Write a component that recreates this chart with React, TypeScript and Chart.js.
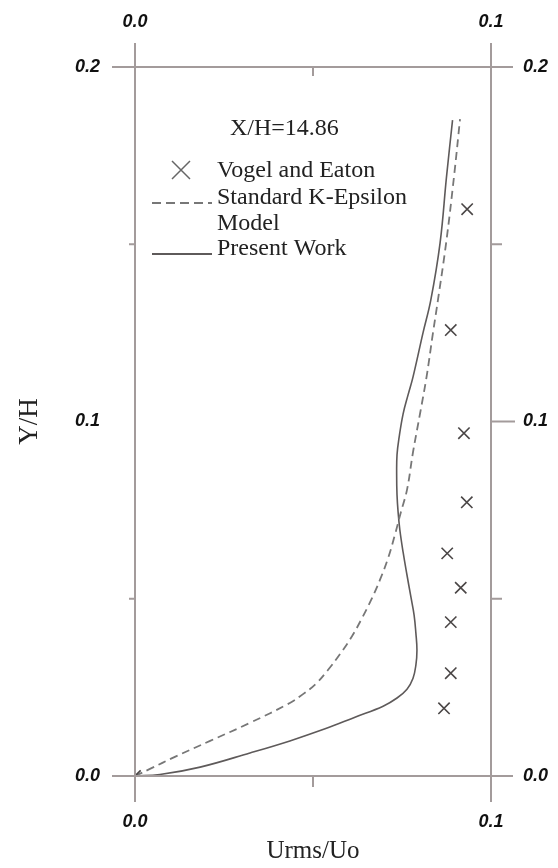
import React, { useEffect, useRef } from "react";
import { Chart, registerables } from "chart.js";

Chart.register(...registerables);

// Vogel and Eaton experimental data (Urms/Uo, Y/H)
const vogelX = [0.0, 0.0868, 0.0887, 0.0887, 0.0915, 0.0877, 0.0932, 0.0924, 0.0887, 0.0933];
const vogelY = [0.0, 0.0191, 0.029, 0.0434, 0.0531, 0.0628, 0.0772, 0.0967, 0.1258, 0.1599];

// Standard K-Epsilon model
const keX = [0.0, 0.0042, 0.0112, 0.0211, 0.0323, 0.0435, 0.0472, 0.0508, 0.0542, 0.0576, 0.061, 0.0638, 0.0663, 0.0688, 0.0711, 0.073, 0.0747, 0.0764, 0.0781, 0.0801, 0.0819, 0.0837, 0.0851, 0.0874, 0.0896, 0.0913];
const keY = [0.0, 0.002, 0.0054, 0.0099, 0.015, 0.0206, 0.0231, 0.026, 0.0299, 0.0344, 0.0395, 0.0446, 0.0496, 0.0553, 0.0615, 0.068, 0.0745, 0.0807, 0.0914, 0.1024, 0.1126, 0.125, 0.1343, 0.1504, 0.169, 0.1853];

// Present work
const pwX = [0.0, 0.007, 0.0183, 0.0323, 0.0435, 0.0534, 0.0618, 0.0697, 0.0736, 0.0764, 0.0781, 0.0789, 0.0792, 0.0789, 0.0784, 0.0775, 0.0764, 0.0753, 0.0744, 0.0739, 0.0736, 0.0735, 0.0736, 0.0742, 0.0753, 0.0767, 0.0781, 0.0809, 0.0831, 0.0857, 0.0875, 0.0892];
const pwY = [0.0, 0.0004, 0.0025, 0.0065, 0.0099, 0.0133, 0.0166, 0.0197, 0.022, 0.0245, 0.0276, 0.0313, 0.0355, 0.0403, 0.0454, 0.0505, 0.0567, 0.0632, 0.0694, 0.0745, 0.0793, 0.0849, 0.0906, 0.0956, 0.1021, 0.1075, 0.1126, 0.125, 0.1343, 0.1504, 0.169, 0.185];

const xTickLabels = ["0.0", "0.1"];
const xTickValues = [0.0, 0.1];
const xMinorTicks = [0.05];
const yTickLabels = ["0.0", "0.1", "0.2"];
const yTickValues = [0.0, 0.1, 0.2];
const yMinorTicks = [0.05, 0.15];

const legendTitle = "X/H=14.86";
const legendLabels = ["Vogel and Eaton", "Standard K-Epsilon", "Model", "Present Work"];
const xTitle = "Urms/Uo";
const yTitle = "Y/H";

const AXIS = "#a39b9b";
const LINE = "#5e5a5a";

const zip = (xs: number[], ys: number[]) => xs.map((x, i) => ({ x, y: ys[i] }));

const framePlugin = {
  id: "frame",
  afterDatasetsDraw(chart: any) {
    const { ctx } = chart;
    const xs = chart.scales.x;
    const ys = chart.scales.y;
    const x0 = xs.getPixelForValue(0);
    const x1 = xs.getPixelForValue(0.1);
    const y0 = ys.getPixelForValue(0);
    const y1 = ys.getPixelForValue(0.2);
    ctx.save();
    ctx.strokeStyle = AXIS;
    ctx.lineWidth = 2;
    ctx.beginPath();
    ctx.moveTo(x0, y1 - 24);
    ctx.lineTo(x0, y0 + 26);
    ctx.moveTo(x1, y1 - 24);
    ctx.lineTo(x1, y0 + 26);
    ctx.moveTo(x0 - 23, y0);
    ctx.lineTo(x1 + 22, y0);
    ctx.moveTo(x0 - 23, y1);
    ctx.lineTo(x1 + 22, y1);
    xMinorTicks.forEach((v) => {
      const p = xs.getPixelForValue(v);
      ctx.moveTo(p, y1);
      ctx.lineTo(p, y1 + 9);
      ctx.moveTo(p, y0);
      ctx.lineTo(p, y0 + 11);
    });
    yMinorTicks.forEach((v) => {
      const p = ys.getPixelForValue(v);
      ctx.moveTo(x1, p);
      ctx.lineTo(x1 + 11, p);
      ctx.moveTo(x0, p);
      ctx.lineTo(x0 - 6, p);
    });
    const pm = ys.getPixelForValue(0.1);
    ctx.moveTo(x1, pm);
    ctx.lineTo(x1 + 24, pm);
    ctx.stroke();

    ctx.fillStyle = "#111";
    ctx.font = "italic bold 18px 'Liberation Sans', Arial, sans-serif";
    ctx.textBaseline = "middle";
    ctx.textAlign = "center";
    xTickValues.forEach((v, i) => {
      const p = xs.getPixelForValue(v);
      ctx.fillText(xTickLabels[i], p, y1 - 45);
      ctx.fillText(xTickLabels[i], p, y0 + 46);
    });
    yTickValues.forEach((v, i) => {
      const p = ys.getPixelForValue(v);
      ctx.textAlign = "right";
      ctx.fillText(yTickLabels[i], x0 - 35, p);
      ctx.textAlign = "left";
      ctx.fillText(yTickLabels[i], x1 + 32, p);
    });

    ctx.font = "25px 'Liberation Serif', 'Times New Roman', serif";
    ctx.fillStyle = "#222";
    ctx.textAlign = "center";
    ctx.fillText(xTitle, (x0 + x1) / 2, y0 + 75);
    ctx.save();
    ctx.translate(30, ys.getPixelForValue(0.1));
    ctx.rotate(-Math.PI / 2);
    ctx.font = "27px 'Liberation Serif', 'Times New Roman', serif";
    ctx.fillText(yTitle, 0, 0);
    ctx.restore();

    ctx.font = "24px 'Liberation Serif', 'Times New Roman', serif";
    ctx.textAlign = "left";
    ctx.fillStyle = "#222";
    ctx.fillText(legendTitle, 230, 129);
    ctx.fillText(legendLabels[0], 217, 171);
    ctx.fillText(legendLabels[1], 217, 198);
    ctx.fillText(legendLabels[2], 217, 224);
    ctx.fillText(legendLabels[3], 217, 249);
    ctx.strokeStyle = "#666";
    ctx.lineWidth = 1.5;
    ctx.beginPath();
    ctx.moveTo(172, 161);
    ctx.lineTo(190, 179);
    ctx.moveTo(190, 161);
    ctx.lineTo(172, 179);
    ctx.stroke();
    ctx.strokeStyle = "#777";
    ctx.lineWidth = 1.8;
    ctx.setLineDash([9, 5]);
    ctx.beginPath();
    ctx.moveTo(152, 203);
    ctx.lineTo(212, 203);
    ctx.stroke();
    ctx.setLineDash([]);
    ctx.strokeStyle = LINE;
    ctx.beginPath();
    ctx.moveTo(152, 254);
    ctx.lineTo(212, 254);
    ctx.stroke();
    ctx.restore();
  },
};

export default function App() {
  const ref = useRef<HTMLCanvasElement | null>(null);
  useEffect(() => {
    if (!ref.current) return;
    const chart = new Chart(ref.current, {
      type: "scatter",
      data: {
        datasets: [
          {
            label: legendLabels[0],
            data: zip(vogelX, vogelY),
            pointStyle: "crossRot",
            pointRadius: 8,
            borderColor: "#4a4646",
            backgroundColor: "#4a4646",
            pointBorderWidth: 1.6,
            showLine: false,
          },
          {
            label: legendLabels[1],
            data: zip(keX, keY),
            showLine: true,
            borderColor: "#777",
            borderWidth: 1.8,
            borderDash: [8, 5],
            pointRadius: 0,
            tension: 0.4,
          },
          {
            label: legendLabels[3],
            data: zip(pwX, pwY),
            showLine: true,
            borderColor: LINE,
            borderWidth: 1.6,
            pointRadius: 0,
            tension: 0.4,
          },
        ],
      },
      options: {
        responsive: false,
        animation: false,
        layout: { padding: { left: 135, right: 67, top: 67, bottom: 92 } },
        plugins: { legend: { display: false }, tooltip: { enabled: false } },
        scales: {
          x: { type: "linear", min: 0, max: 0.1, display: false },
          y: { type: "linear", min: 0, max: 0.2, display: false },
        },
      },
      plugins: [framePlugin],
    });
    return () => chart.destroy();
  }, []);
  return (
    <div style={{ position: "fixed", left: 0, top: 0, width: 558, height: 868, background: "#fff" }}>
      <canvas ref={ref} width={558} height={868} style={{ width: 558, height: 868 }} />
    </div>
  );
}
